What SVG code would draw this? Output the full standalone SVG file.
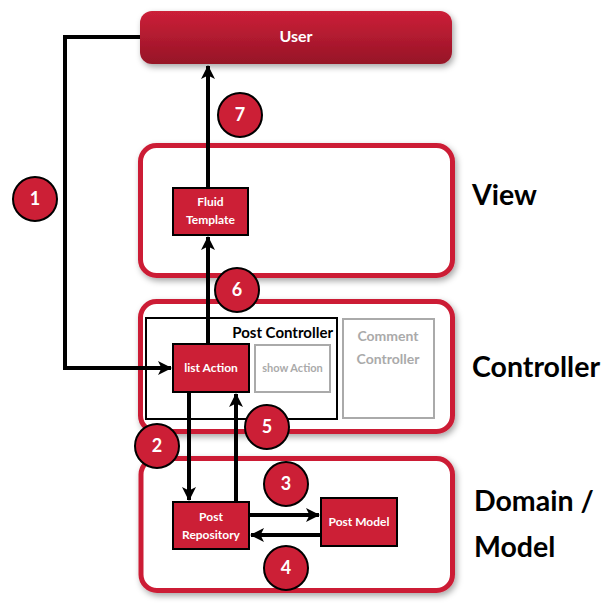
<svg xmlns="http://www.w3.org/2000/svg" width="614" height="614" viewBox="0 0 614 614">
<defs>
<linearGradient id="ug" x1="0" y1="0" x2="0" y2="1"><stop offset="0" stop-color="#cc2038"/><stop offset="1" stop-color="#961427"/></linearGradient>
<filter id="sh" x="-10%" y="-20%" width="125%" height="150%"><feDropShadow dx="2" dy="3" stdDeviation="3" flood-color="#000" flood-opacity="0.35"/></filter>
<marker id="ah" viewBox="0 0 14 14" refX="13" refY="7" markerWidth="14" markerHeight="14" markerUnits="userSpaceOnUse" orient="auto"><path d="M0,0 L14,7 L0,14 L3.5,7 Z" fill="#000"/></marker>
<style>
.layer{fill:#fff;stroke:#cc1f36;stroke-width:5;filter:url(#sh)}
.node{fill:#cc1f36;stroke:#000;stroke-width:2}
.ntext{font-family:Lato,"Open Sans",sans-serif;font-weight:bold;font-size:12px;fill:#fff;text-anchor:middle}
.gbox{fill:#fff;stroke:#aaa;stroke-width:2}
.gtext{font-family:Lato,"Open Sans",sans-serif;font-weight:bold;fill:#aaa;text-anchor:middle}
.label{font-family:Lato,"Open Sans",sans-serif;font-weight:bold;font-size:28.5px;fill:#000}
.conn{fill:none;stroke:#000;stroke-width:4}
.step{fill:#cc1f36;stroke:#000;stroke-width:2}
.stext{font-family:Lato,"Open Sans",sans-serif;font-weight:bold;font-size:18px;fill:#fff;text-anchor:middle}
</style>
</defs>
<rect width="614" height="614" fill="#fff"/>
<g id="layer-view"><rect class="layer" x="140.5" y="145.5" width="312" height="130" rx="16"/></g>
<g id="layer-controller"><rect class="layer" x="140.5" y="301.5" width="312" height="130" rx="16"/></g>
<g id="layer-model"><rect class="layer" x="141" y="458.5" width="311.5" height="132" rx="16"/></g>
<g id="user"><rect x="140" y="11" width="312" height="53" rx="12" fill="url(#ug)" filter="url(#sh)"/><text x="296" y="42" font-family="Lato,'Open Sans',sans-serif" font-weight="bold" font-size="16" fill="#fff" text-anchor="middle">User</text></g>
<g id="post-controller"><rect x="146" y="318" width="191" height="101" fill="#fff" stroke="#000" stroke-width="2"/><text x="333" y="338" font-family="Lato,'Open Sans',sans-serif" font-weight="bold" font-size="15" text-anchor="end">Post Controller</text></g>
<g id="comment-controller"><rect class="gbox" x="343" y="319" width="91" height="99"/><text class="gtext" x="388" y="341" font-size="14">Comment</text><text class="gtext" x="388" y="364" font-size="14">Controller</text></g>
<g id="show-action"><rect class="gbox" x="255" y="345" width="75" height="47"/><text class="gtext" x="292.5" y="372" font-size="11">show Action</text></g>
<g id="connectors">
<polyline class="conn" points="140,37 65,37 65,368 171,368" marker-end="url(#ah)"/>
<line class="conn" x1="208" y1="188" x2="208" y2="66" marker-end="url(#ah)"/>
<line class="conn" x1="208" y1="344" x2="208" y2="237" marker-end="url(#ah)"/>
<line class="conn" x1="189" y1="392" x2="189" y2="500" marker-end="url(#ah)"/>
<line class="conn" x1="236" y1="502" x2="236" y2="394" marker-end="url(#ah)"/>
<line class="conn" x1="249" y1="515" x2="319" y2="515" marker-end="url(#ah)"/>
<line class="conn" x1="321" y1="535" x2="251" y2="535" marker-end="url(#ah)"/>
</g>
<g id="fluid-template"><rect class="node" x="173" y="188" width="75" height="47"/><text class="ntext" x="210.5" y="206">Fluid</text><text class="ntext" x="210.5" y="224">Template</text></g>
<g id="list-action"><rect class="node" x="173" y="344" width="76" height="48"/><text class="ntext" x="211" y="372">list Action</text></g>
<g id="post-repository"><rect class="node" x="173" y="502" width="76" height="47"/><text class="ntext" x="211" y="521">Post</text><text class="ntext" x="211" y="539">Repository</text></g>
<g id="post-model"><rect class="node" x="321" y="498" width="76" height="48"/><text class="ntext" x="359" y="526">Post Model</text></g>
<g id="steps">
<circle class="step" cx="35" cy="199" r="22"/><text class="stext" x="35" y="205">1</text>
<circle class="step" cx="157" cy="446" r="22"/><text class="stext" x="157" y="452">2</text>
<circle class="step" cx="286" cy="484" r="22"/><text class="stext" x="286" y="490">3</text>
<circle class="step" cx="286" cy="568" r="22"/><text class="stext" x="286" y="574">4</text>
<circle class="step" cx="267" cy="427" r="22"/><text class="stext" x="267" y="433">5</text>
<circle class="step" cx="237" cy="290" r="22"/><text class="stext" x="237" y="296">6</text>
<circle class="step" cx="240" cy="115" r="22"/><text class="stext" x="240" y="121">7</text>
</g>
<g id="labels">
<text class="label" x="472" y="205">View</text>
<text class="label" x="472" y="377">Controller</text>
<text class="label" x="474" y="511">Domain /</text>
<text class="label" x="474" y="557">Model</text>
</g>
</svg>
